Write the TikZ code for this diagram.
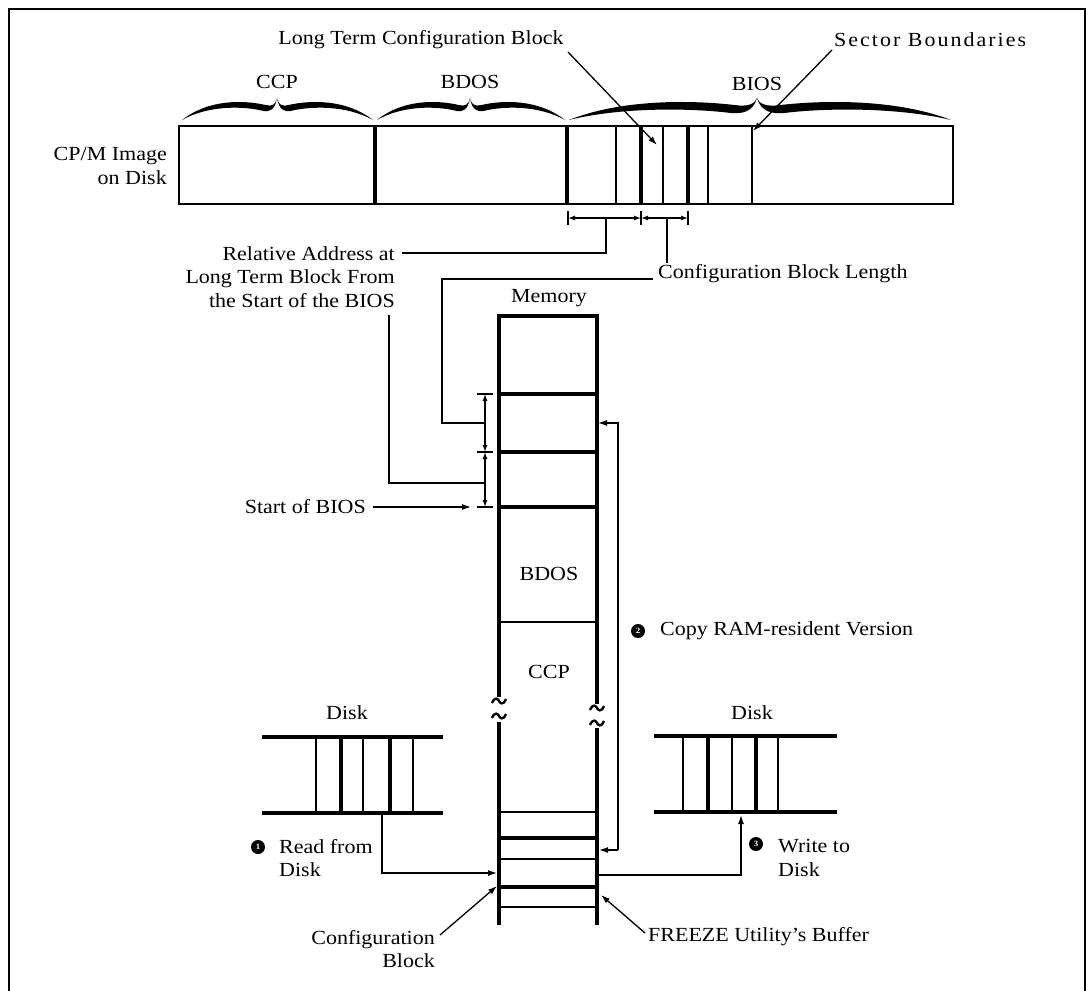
\documentclass[tikz,border=0pt]{standalone}
\usepackage{fontspec}
\setmainfont[FakeStretch=1.1]{Liberation Serif}
\usetikzlibrary{arrows.meta}
\newcommand\hbrace[3]{%
 \fill (#1,120) .. controls ({#1+0.28*(#2-#1)},99) and ({#2-0.35*(#2-#1)},100) .. ({#2-0.12*(#2-#1)},105)
   .. controls ({#2-0.05*(#2-#1)},107) and ({#2-0.01*(#2-#1)},104) .. (#2,98)
   .. controls ({#2-0.02*(#2-#1)},{106+#3}) and ({#2-0.08*(#2-#1)},{108+#3}) .. ({#2-0.14*(#2-#1)},{107+#3})
   .. controls ({#2-0.35*(#2-#1)},{102+#3}) and ({#1+0.28*(#2-#1)},{101+#3}) .. (#1,120) -- cycle;}
\begin{document}
\begin{tikzpicture}[x=1pt,y=-1pt,
  lbl/.style={inner sep=0pt, font=\fontsize{20}{23.5}\selectfont},
  frm/.style={line width=2.8pt},
  thinl/.style={line width=1.8pt},
  thickl/.style={line width=3.4pt},
  lead/.style={line width=1.3pt},
  arr/.style={lead,-{Latex[length=9pt,width=6pt]}},
  dim/.style={lead,{Latex[length=7pt,width=5pt]}-{Latex[length=7pt,width=5pt]}},
  bul/.style={circle, fill=black, inner sep=0pt, minimum size=14pt, text=white, font=\fontsize{8}{8}\selectfont\bfseries}
]
\useasboundingbox (0,0) rectangle (1088,991);
\draw[frm] (9,995) -- (9,9) -- (1085,9) -- (1085,995);

% ---------- CP/M image on disk ----------
\draw[frm] (179,126) rectangle (953,204);
\foreach \x in {375,567,641,688} \draw[thickl] (\x,126) -- (\x,204);
\foreach \x in {616,663,708,752} \draw[thinl] (\x,126) -- (\x,204);
\hbrace{182}{277}{4}
\hbrace{373}{277}{4}
\hbrace{377}{470}{4}
\hbrace{565}{470}{4}
\hbrace{569}{757}{6}
\hbrace{951}{757}{6}

\node[lbl] (ccp) at (277,82) {CCP};
\node[lbl] (bdos) at (470,82) {BDOS};
\node[lbl] (bios) at (757,84) {BIOS};
\node[lbl] (ltcb) at (421,40) {Long Term Configuration Block};
\node[lbl, anchor=west] (secb) at (834,40) {\addfontfeature{LetterSpace=10}Sector Boundaries};
\node[lbl, align=right, anchor=east] (cpm) at (167,166) {CP/M Image\\on Disk};

\coordinate (ltcbS) at (568,52);
\coordinate (ltcbT) at (657,145);
\coordinate (secbS) at (832,50);
\coordinate (secbT) at (753,131);
\draw[arr] (ltcbS) -- (ltcbT);
\draw[arr] (secbS) -- (secbT);

% dimension under disk image
\foreach \x in {568,641,688} \draw[lead] (\x,211) -- (\x,225);
\draw[dim] (568,218) -- (641,218);
\draw[dim] (641,218) -- (688,218);

\node[lbl, align=right, anchor=east] (rel) at (395,277) {Relative Address at\\Long Term Block From\\the Start of the BIOS};
\node[lbl, anchor=west] (cbl) at (658,274) {Configuration Block Length};
\draw[lead] (606,218) -- (606,253) -- (402,253);
\draw[lead] (667,218) -- (667,263);

% ---------- Memory ----------
\node[lbl] (mem) at (549,298) {Memory};
\foreach \y in {316,394,452,507} \draw[thickl] (499,\y) -- (597,\y);
\draw[thinl] (499,622) -- (597,622);
\draw[thickl] (499,314) -- (499,697);
\draw[thickl] (597,314) -- (597,704);
\draw[thickl] (499,722) -- (499,925);
\draw[thickl] (597,728) -- (597,925);
\foreach \x/\y in {499/701,499/716,597/708,597/723}
  \draw[line width=2.4pt] (\x-7,\y+2) .. controls (\x-4,\y-5) and (\x-1,\y-2) .. (\x,\y) .. controls (\x+1,\y+2) and (\x+4,\y+5) .. (\x+7,\y-2);
\foreach \y in {812,859,907} \draw[thinl] (499,\y) -- (597,\y);
\foreach \y in {838,887} \draw[thickl] (499,\y) -- (597,\y);
\node[lbl] (mbdos) at (549,574) {BDOS};
\node[lbl] (mccp) at (549,672) {CCP};

% left dimension on memory
\foreach \y in {394,452,507} \draw[lead] (477,\y) -- (493,\y);
\draw[dim] (485,394) -- (485,452);
\draw[dim] (485,452) -- (485,507);
\draw[lead] (653,279) -- (442,279) -- (442,423) -- (485,423);
\draw[lead] (389,315) -- (389,483) -- (485,483);
\node[lbl, anchor=east] (sob) at (366,507) {Start of BIOS};
\draw[arr] (373,507) -- (471,507);

% copy RAM-resident version
\draw[arr] (618,850) -- (618,423) -- (598,423);
\draw[arr] (618,850) -- (599,850);
\node[bul] (b2) at (638,631) {2};
\node[lbl, anchor=west] (copy) at (660,631) {Copy RAM-resident Version};

% ---------- left disk ----------
\node[lbl] (disk1) at (347,713) {Disk};
\draw[thickl] (262,737) -- (443,737);
\draw[thickl] (262,813) -- (443,813);
\foreach \x in {316,363,413} \draw[thinl] (\x,737) -- (\x,813);
\foreach \x in {341,390} \draw[thickl] (\x,737) -- (\x,813);
\draw[arr] (382,813) -- (382,873) -- (497,873);
\node[bul] (b1) at (258,847) {1};
\node[lbl, align=left, anchor=west] (read) at (279,858) {Read from\\Disk};
\node[lbl, align=right, anchor=east] (cfgb) at (435,949) {Configuration\\Block};
\draw[arr] (440,935) -- (497,886);

% ---------- right disk ----------
\node[lbl] (disk2) at (752,713) {Disk};
\draw[thickl] (654,736) -- (837,736);
\draw[thickl] (654,812) -- (837,812);
\foreach \x in {683,732,778} \draw[thinl] (\x,736) -- (\x,812);
\foreach \x in {708,756} \draw[thickl] (\x,736) -- (\x,812);
\draw[arr] (598,875) -- (741,875) -- (741,815);
\node[bul] (b3) at (756,844) {3};
\node[lbl, align=left, anchor=west] (write) at (778,858) {Write to\\Disk};
\node[lbl, anchor=west] (frz) at (648,937) {FREEZE Utility’s Buffer};
\draw[arr] (645,933) -- (601,895);
\end{tikzpicture}
\end{document}
